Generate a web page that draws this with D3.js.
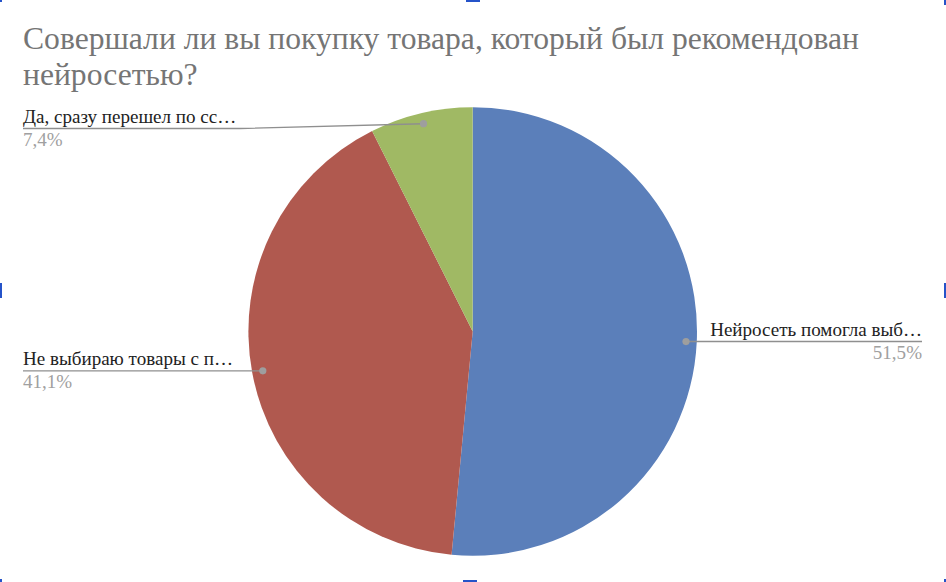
<!DOCTYPE html>
<html>
<head>
<meta charset="utf-8">
<script src="https://cdn.jsdelivr.net/npm/d3@7"></script>
<style>
  body { margin: 0; background: #fff; }
  svg { display: block; }
  text { font-family: "Liberation Serif", "DejaVu Serif", "Times New Roman", serif; }
</style>
</head>
<body>
<svg id="chart" width="946" height="582"></svg>
<script>
const titleLines = ['Совершали ли вы покупку товара, который был рекомендован', 'нейросетью?'];
const categories = ['Нейросеть помогла выб…', 'Не выбираю товары с п…', 'Да, сразу перешел по сс…'];
const shares = [51.5, 41.1, 7.4];
const shareLabels = ['51,5%', '41,1%', '7,4%'];
const colors = ['#5b7fba', '#b0594f', '#a0b964'];

const W = 946, H = 582;
const cx = 472.7, cy = 331.5, r = 224.3;
const svg = d3.select('#chart');

// title: one text, two lines, sized so the first line spans about the original width
let title = svg.append('text')
  .attr('font-size', 32)
  .attr('fill', '#757575');
title.selectAll('tspan')
  .data(titleLines)
  .join('tspan')
  .attr('x', 23)
  .attr('y', (d, i) => 49 + i * 36)
  .text(d => d);
let tw0 = title.select('tspan').node().getComputedTextLength();
title.attr('font-size', 32 * 836 / tw0);

const data = categories.map((c, i) => ({ name: c, value: shares[i], label: shareLabels[i], color: colors[i] }));

let pie = d3.pie().sort(null).value(d => d.value);
let arc = d3.arc().innerRadius(0).outerRadius(r);
let dotArc = d3.arc().innerRadius(r * 0.952).outerRadius(r * 0.952);

const g = svg.append('g').attr('transform', `translate(${cx},${cy})`);
const arcs = pie(data);

g.selectAll('path')
  .data(arcs)
  .join('path')
  .attr('d', arc)
  .attr('fill', d => d.data.color);

// label font size: the first label is ~212px wide in the original
let probe = svg.append('text').attr('font-size', 17).text(categories[0]);
let labelSize = 17 * 212 / probe.node().getComputedTextLength();
probe.remove();

// labels with leader lines
const labelG = svg.append('g');
arcs.forEach(a => {
  let [dx, dy] = dotArc.centroid(a);
  let px = cx + dx, py = cy + dy;
  let left = px < cx;
  let ly = Math.max(py, 128.5);
  let tx = left ? 23 : 922;

  let name = labelG.append('text')
    .attr('x', tx)
    .attr('y', ly - 6)
    .attr('text-anchor', left ? 'start' : 'end')
    .attr('font-size', labelSize)
    .attr('fill', '#222')
    .text(a.data.name);
  let tw = name.node().getComputedTextLength();

  let pts;
  if (left) {
    pts = [[tx, ly], [tx + tw + 4, ly], [px, py]];
  } else {
    pts = [[px, py], [tx, ly]];
  }
  labelG.append('path')
    .attr('d', d3.line()(pts))
    .attr('fill', 'none')
    .attr('stroke', '#8f8f8f')
    .attr('stroke-width', 1.4);

  labelG.append('circle')
    .attr('cx', px)
    .attr('cy', py)
    .attr('r', 3.6)
    .attr('fill', '#9e9e9e');

  labelG.append('text')
    .attr('x', tx)
    .attr('y', ly + 17)
    .attr('text-anchor', left ? 'start' : 'end')
    .attr('font-size', labelSize)
    .attr('fill', '#a0a0a0')
    .text(a.data.label);
});

// selection handles around the chart frame
const handles = [
  [0, 0, 2, 2], [466, 0, 14, 2], [944, 0, 2, 5],
  [0, 283, 2, 15], [944, 283, 2, 15],
  [0, 579, 2, 3], [463, 580, 14, 2], [944, 579, 2, 3]
];
svg.append('g').selectAll('rect')
  .data(handles)
  .join('rect')
  .attr('x', d => d[0]).attr('y', d => d[1])
  .attr('width', d => d[2]).attr('height', d => d[3])
  .attr('fill', '#2553c9');
</script>
</body>
</html>
